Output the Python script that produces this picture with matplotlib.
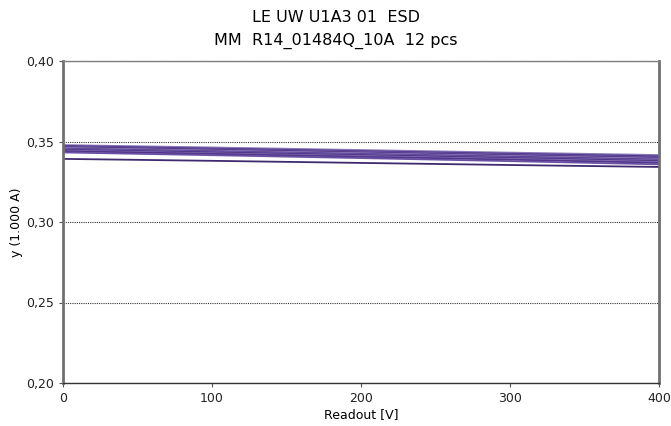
import matplotlib.pyplot as plt

readout = [0, 100, 200, 300, 400]

# current readings (1.000 A) per piece
pcs_values = [
    [0.3478, 0.3463, 0.3447, 0.3431, 0.3416],
    [0.3472, 0.3456, 0.3440, 0.3424, 0.3408],
    [0.3468, 0.3452, 0.3436, 0.3419, 0.3402],
    [0.3464, 0.3448, 0.3431, 0.3414, 0.3397],
    [0.3460, 0.3444, 0.3427, 0.3410, 0.3393],
    [0.3456, 0.3440, 0.3423, 0.3406, 0.3388],
    [0.3452, 0.3436, 0.3419, 0.3401, 0.3383],
    [0.3448, 0.3432, 0.3415, 0.3397, 0.3378],
    [0.3444, 0.3427, 0.3410, 0.3392, 0.3373],
    [0.3440, 0.3423, 0.3405, 0.3387, 0.3367],
    [0.3432, 0.3415, 0.3397, 0.3378, 0.3358],
    [0.3392, 0.3380, 0.3367, 0.3354, 0.3342],
]
line_colors = ["#8a78b8", "#4f3288", "#6b56a6", "#4b2e83", "#9585c0", "#573a90",
               "#7462ad", "#4a2c80", "#8270b4", "#52358b", "#6a50a2", "#3f2a70"]

y_ticks = [0.20, 0.25, 0.30, 0.35, 0.40]
y_labels = ["0,20", "0,25", "0,30", "0,35", "0,40"]
x_ticks = [0, 100, 200, 300, 400]

fig = plt.figure(figsize=(6.71, 4.26), dpi=100)
ax = fig.add_axes([63 / 671, 1 - 383 / 426, (659 - 63) / 671, (383 - 61) / 426])

for vals, c in zip(pcs_values, line_colors):
    ax.plot(readout, vals, color=c, linewidth=1.3)

ax.set_xlim(0, 400)
ax.set_ylim(0.20, 0.40)
ax.set_yticks(y_ticks)
ax.set_yticklabels(y_labels)
ax.set_xticks(x_ticks)
ax.yaxis.grid(True, linestyle=(0, (1, 1)), color="#333333", linewidth=0.8)
ax.tick_params(labelsize=9, length=3, color="#555555", colors="#222222")

for side in ("left", "right"):
    ax.spines[side].set_color("#707070")
    ax.spines[side].set_linewidth(2)
ax.spines["top"].set_color("#808080")
ax.spines["top"].set_linewidth(1)
ax.spines["bottom"].set_color("#333333")
ax.spines["bottom"].set_linewidth(1)

ax.set_xlabel("Readout [V]", fontsize=9, labelpad=2)
ax.set_ylabel("y (1.000 A)", fontsize=9, labelpad=2)
fig.text(0.5, 0.958, "LE UW U1A3 01  ESD", ha="center", va="center", fontsize=11.5)
fig.text(0.5, 0.905, "MM  R14_01484Q_10A  12 pcs", ha="center", va="center", fontsize=11.5)

fig.savefig("out.png", dpi=100)
